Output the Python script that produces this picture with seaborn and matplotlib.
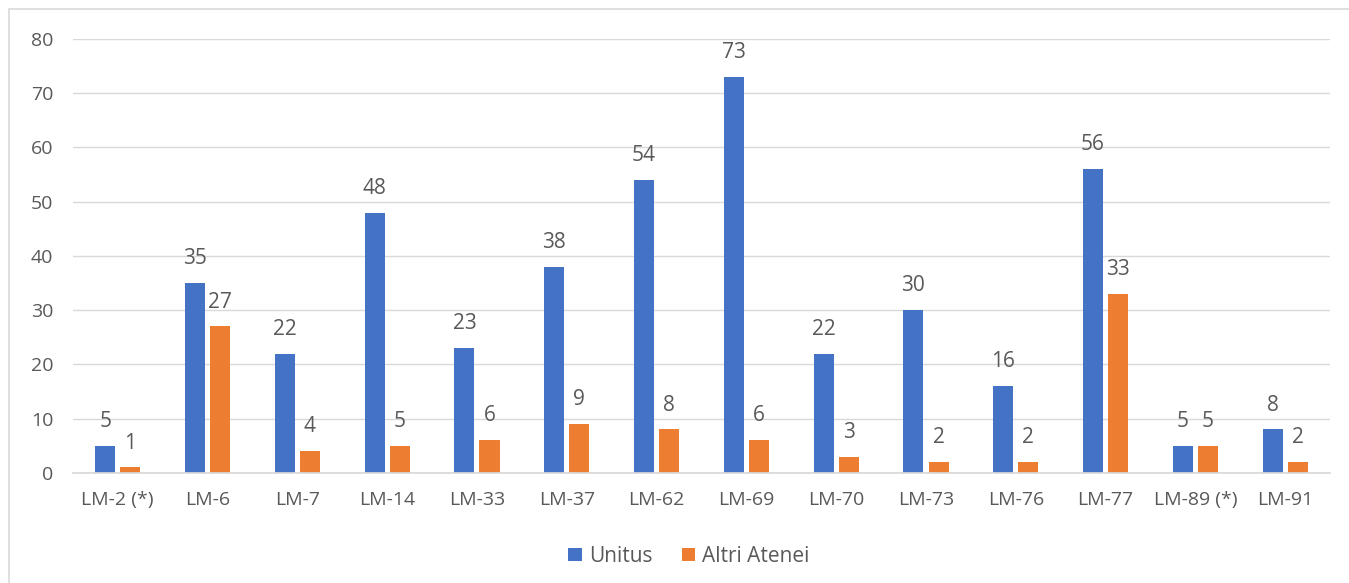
import pandas as pd
import seaborn as sns
import matplotlib.pyplot as plt
from matplotlib.patches import Rectangle

# data
categories = ['LM-2 (*)', 'LM-6', 'LM-7', 'LM-14', 'LM-33', 'LM-37', 'LM-62',
              'LM-69', 'LM-70', 'LM-73', 'LM-76', 'LM-77', 'LM-89 (*)', 'LM-91']
unitus = [5, 35, 22, 48, 23, 38, 54, 73, 22, 30, 16, 56, 5, 8]
altri_atenei = [1, 27, 4, 5, 6, 9, 8, 6, 3, 2, 2, 33, 5, 2]
series_names = ['Unitus', 'Altri Atenei']
colors = ['#4472C4', '#ED7D31']

df = pd.DataFrame({'corso': categories * 2,
                   'valore': unitus + altri_atenei,
                   'serie': [series_names[0]] * len(categories) + [series_names[1]] * len(categories)})

sns.set_theme(style='white')
plt.rcParams['font.family'] = ['Open Sans', 'DejaVu Sans']
text_color = '#595959'

fig = plt.figure(figsize=(13.49, 5.83), dpi=100)
ax = fig.add_axes([0.054, 0.189, 0.932, 0.744])

sns.barplot(data=df, x='corso', y='valore', hue='serie', palette=colors,
            width=0.56, gap=0.2, saturation=1, linewidth=0, ax=ax, legend=True)

for container in ax.containers:
    ax.bar_label(container, padding=10, fontsize=15, color=text_color)

ax.set_ylim(0, 80)
ax.set_yticks(range(0, 81, 10))
ax.set_xlim(-0.5, len(categories) - 0.5)
ax.yaxis.grid(True, color='#D9D9D9', linewidth=1)
ax.set_axisbelow(True)
for side in ['top', 'right', 'left']:
    ax.spines[side].set_visible(False)
ax.spines['bottom'].set_color('#D9D9D9')
ax.tick_params(axis='both', length=0, labelsize=14, labelcolor=text_color)
ax.tick_params(axis='x', pad=13)
ax.tick_params(axis='y', pad=14)
ax.set_xlabel('')
ax.set_ylabel('')

ax.legend(loc='upper center', bbox_to_anchor=(0.49, -0.125), ncol=2, frameon=False,
          fontsize=15, labelcolor=text_color, handlelength=0.65, handleheight=0.65,
          columnspacing=1.4, handletextpad=0.35)

# chart area border
fig.patches.append(Rectangle((9 / 1349, -0.05), 1.2, (583 - 9) / 583 + 0.05,
                             transform=fig.transFigure, fill=False,
                             edgecolor='#D9D9D9', linewidth=1.2))

fig.savefig('out.png', dpi=100, facecolor='white')
